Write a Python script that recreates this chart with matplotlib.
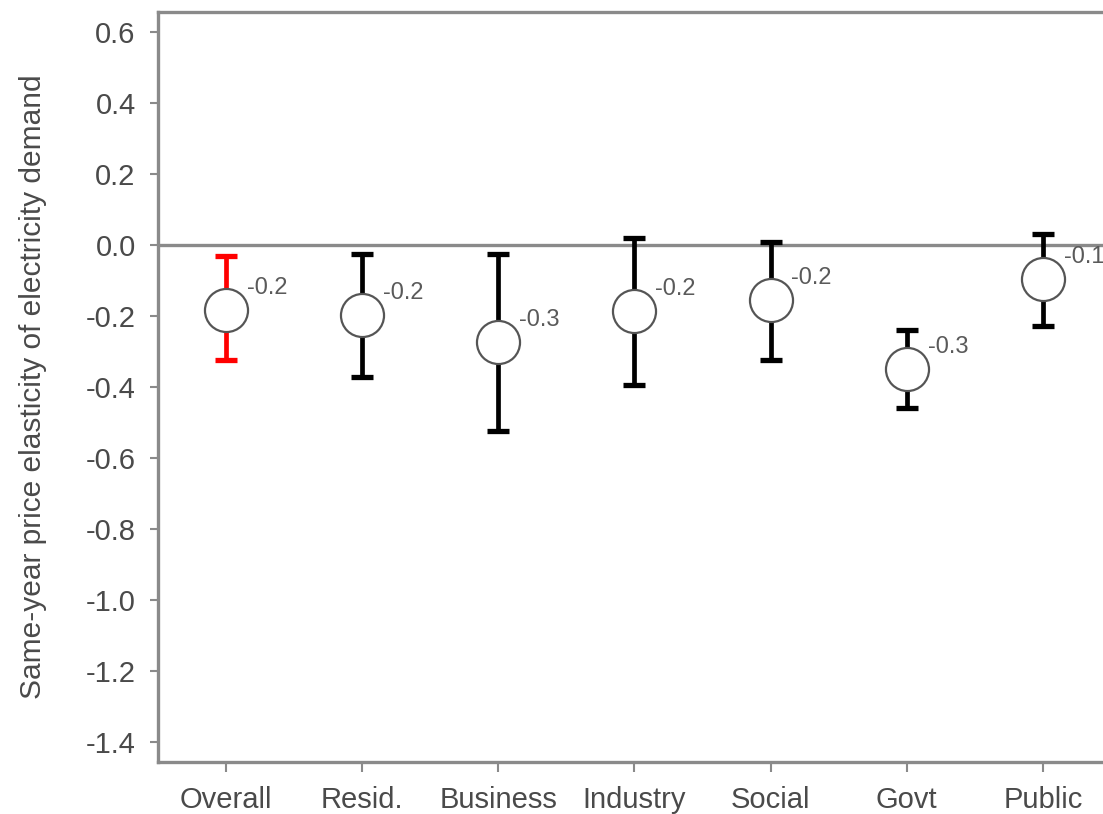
import numpy as np
import matplotlib
matplotlib.use("Agg")
import matplotlib.pyplot as plt

# elasticity estimates by sector, with interval bounds
sectors = ["Overall", "Resid.", "Business", "Industry", "Social", "Govt", "Public"]
estimate = [-0.183, -0.197, -0.273, -0.186, -0.155, -0.349, -0.096]
lower = [-0.324, -0.372, -0.524, -0.394, -0.324, -0.459, -0.228]
upper = [-0.031, -0.025, -0.025, 0.020, 0.008, -0.240, 0.031]
bar_colors = ["red", "black", "black", "black", "black", "black", "black"]
yticks = [-1.4, -1.2, -1.0, -0.8, -0.6, -0.4, -0.2, 0.0, 0.2, 0.4, 0.6]

plt.rcParams["font.family"] = ["Liberation Sans", "DejaVu Sans"]
txt = "#4a4a4a"
axc = "#8a8a8a"

fig = plt.figure(figsize=(11.03, 8.14), dpi=100)
ax = fig.add_axes([0.1432, 0.0639, 0.864, 0.9214])

x = np.arange(1, len(sectors) + 1)
est = np.array(estimate)
lo = np.array(lower)
hi = np.array(upper)

ax.axhline(0, color=axc, lw=2.4, zorder=1)

for xi, e, l, h, c in zip(x, est, lo, hi, bar_colors):
    ax.errorbar(xi, e, yerr=[[e - l], [h - e]], fmt="none", ecolor=c,
                elinewidth=3.4, capsize=8, capthick=3.8, zorder=2)

ax.plot(x, est, "o", ms=31, mfc="white", mec="#555555", mew=1.6,
        ls="none", zorder=3)

for xi, e in zip(x, est):
    ax.annotate(f"{e:.1f}", (xi, e), xytext=(15, 16), textcoords="offset points",
                ha="left", va="center", fontsize=17, color="#5a5a5a",
                annotation_clip=False)

ax.set_xlim(0.5, 7.5)
ax.set_ylim(-1.456, 0.656)
ax.set_xticks(x)
ax.set_xticklabels(sectors)
ax.set_yticks(yticks)
ax.set_yticklabels([f"{v:.1f}" for v in yticks])
ax.set_ylabel("Same-year price elasticity of electricity demand",
              fontsize=21.5, color=txt, labelpad=28)

for side in ["left", "bottom", "top"]:
    ax.spines[side].set_color(axc)
    ax.spines[side].set_linewidth(2.4)
ax.spines["right"].set_visible(False)
ax.tick_params(axis="both", colors=axc, width=1.5, labelcolor=txt)
ax.tick_params(axis="y", length=6, labelsize=21, pad=10)
ax.tick_params(axis="x", length=7, labelsize=21, pad=10)

fig.savefig("out.png", dpi=100)
